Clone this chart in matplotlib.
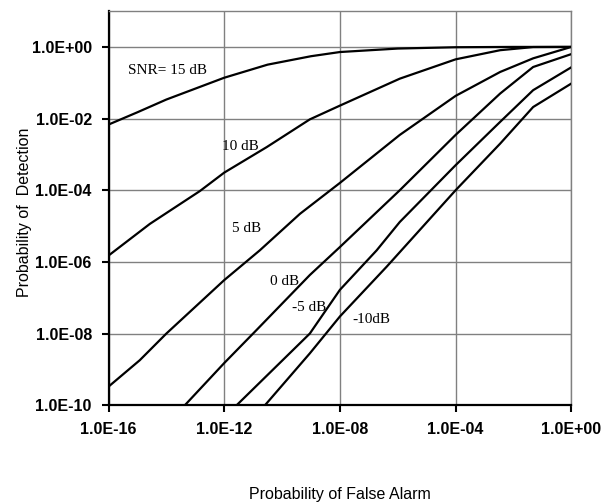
import matplotlib
matplotlib.use("Agg")
import matplotlib.pyplot as plt
from matplotlib.ticker import FixedLocator, NullLocator

# curves: Pfa -> Pd, one pair of lists per SNR
pfa_15 = [1e-16, 1e-15, 1e-14, 1e-12, 10**-10.5, 1e-9, 1e-8, 1e-6, 1e-4, 1e-2, 1e0]
pd_15 = [6.8e-3, 1.5e-2, 3.4e-2, 1.38e-1, 3.2e-1, 5.5e-1, 7.2e-1, 9.0e-1, 9.8e-1, 1.0, 1.0]

pfa_10 = [1e-16, 10**-14.57, 10**-12.84, 1e-12, 10**-10.53, 10**-9.04, 1e-8, 10**-5.93, 1e-4, 10**-2.46, 10**-1.32, 1e0]
pd_10 = [1.5e-6, 1.15e-5, 9.5e-5, 3.1e-4, 1.6e-3, 9.5e-3, 2.3e-2, 1.3e-1, 4.5e-1, 8.1e-1, 9.9e-1, 1.0]

pfa_5 = [1e-16, 10**-14.92, 1e-14, 1e-12, 10**-10.77, 10**-9.38, 1e-8, 10**-5.93, 1e-4, 10**-2.46, 10**-1.32, 1e0]
pd_5 = [3.3e-10, 1.8e-9, 1.0e-8, 3.1e-7, 2.1e-6, 2.2e-5, 1.6e-4, 3.5e-3, 4.3e-2, 2.0e-1, 4.8e-1, 1.0]

pfa_0 = [10**-13.36, 1e-12, 10**-10.88, 10**-9.04, 1e-8, 10**-5.93, 1e-4, 10**-2.46, 10**-1.32, 1e0]
pd_0 = [1e-10, 1.5e-9, 1.26e-8, 4.3e-7, 2.6e-6, 1.0e-4, 3.5e-3, 5.0e-2, 2.75e-1, 6.3e-1]

pfa_m5 = [10**-11.57, 10**-9.04, 1e-8, 10**-6.73, 10**-5.93, 1e-4, 10**-2.46, 10**-1.32, 1e0]
pd_m5 = [1e-10, 1.0e-8, 1.66e-7, 2.1e-6, 1.3e-5, 5.0e-4, 8.1e-3, 6.2e-2, 2.7e-1]

pfa_m10 = [10**-10.59, 10**-9.04, 1e-8, 10**-6.38, 1e-4, 10**-2.46, 10**-1.32, 1e0]
pd_m10 = [1e-10, 2.8e-9, 3.0e-8, 7.4e-7, 1.0e-4, 2.0e-3, 2.1e-2, 9.5e-2]

curve_labels = ["SNR= 15 dB", "10 dB", "5 dB", "0 dB", "-5 dB", "-10dB"]
label_x = [10**-15.33, 10**-12.08, 10**-11.73, 10**-10.42, 10**-9.66, 10**-7.56]
label_y = [10**-0.65, 10**-2.77, 10**-5.06, 10**-6.56, 10**-7.26, 10**-7.62]

x_ticks = [1e-16, 1e-12, 1e-8, 1e-4, 1e0]
x_tick_labels = ["1.0E-16", "1.0E-12", "1.0E-08", "1.0E-04", "1.0E+00"]
y_ticks = [1e-10, 1e-8, 1e-6, 1e-4, 1e-2, 1e0]
y_tick_labels = ["1.0E-10", "1.0E-08", "1.0E-06", "1.0E-04", "1.0E-02", "1.0E+00"]

fig = plt.figure(figsize=(6.13, 5.04), dpi=100)
ax = fig.add_axes([0.177, 0.196, 0.755, 0.782])
ax.set_xscale("log")
ax.set_yscale("log")
ax.set_xlim(1e-16, 1e0)
ax.set_ylim(1e-10, 1e1)

for xs, ys in [(pfa_15, pd_15), (pfa_10, pd_10), (pfa_5, pd_5),
               (pfa_0, pd_0), (pfa_m5, pd_m5), (pfa_m10, pd_m10)]:
    ax.plot(xs, ys, color="black", lw=1.6, zorder=3)

for t, x, y in zip(curve_labels, label_x, label_y):
    ax.text(x, y, t, ha="left", va="center", fontsize=11,
            family="Liberation Serif", zorder=4)

ax.xaxis.set_major_locator(FixedLocator(x_ticks))
ax.yaxis.set_major_locator(FixedLocator(y_ticks))
ax.xaxis.set_minor_locator(NullLocator())
ax.yaxis.set_minor_locator(NullLocator())
ax.set_xticklabels(x_tick_labels, fontsize=11.5, fontweight="bold", family="Liberation Sans")
ax.set_yticklabels(y_tick_labels, fontsize=11.5, fontweight="bold", family="Liberation Sans")
ax.tick_params(direction="out", length=5, width=1.5, pad=7)

ax.grid(True, color="#808080", lw=1)
for s in ["top", "right"]:
    ax.spines[s].set_color("#808080")
    ax.spines[s].set_linewidth(1)
for s in ["left", "bottom"]:
    ax.spines[s].set_color("black")
    ax.spines[s].set_linewidth(1.6)

fig.text(0.555, 0.018, "Probability of False Alarm", ha="center", va="center",
         fontsize=11.5, family="Liberation Sans")
fig.text(0.040, 0.579, "Probability of  Detection", ha="center", va="center",
         rotation=90, fontsize=11.5, family="Liberation Sans")

fig.savefig("out.png", dpi=100)
